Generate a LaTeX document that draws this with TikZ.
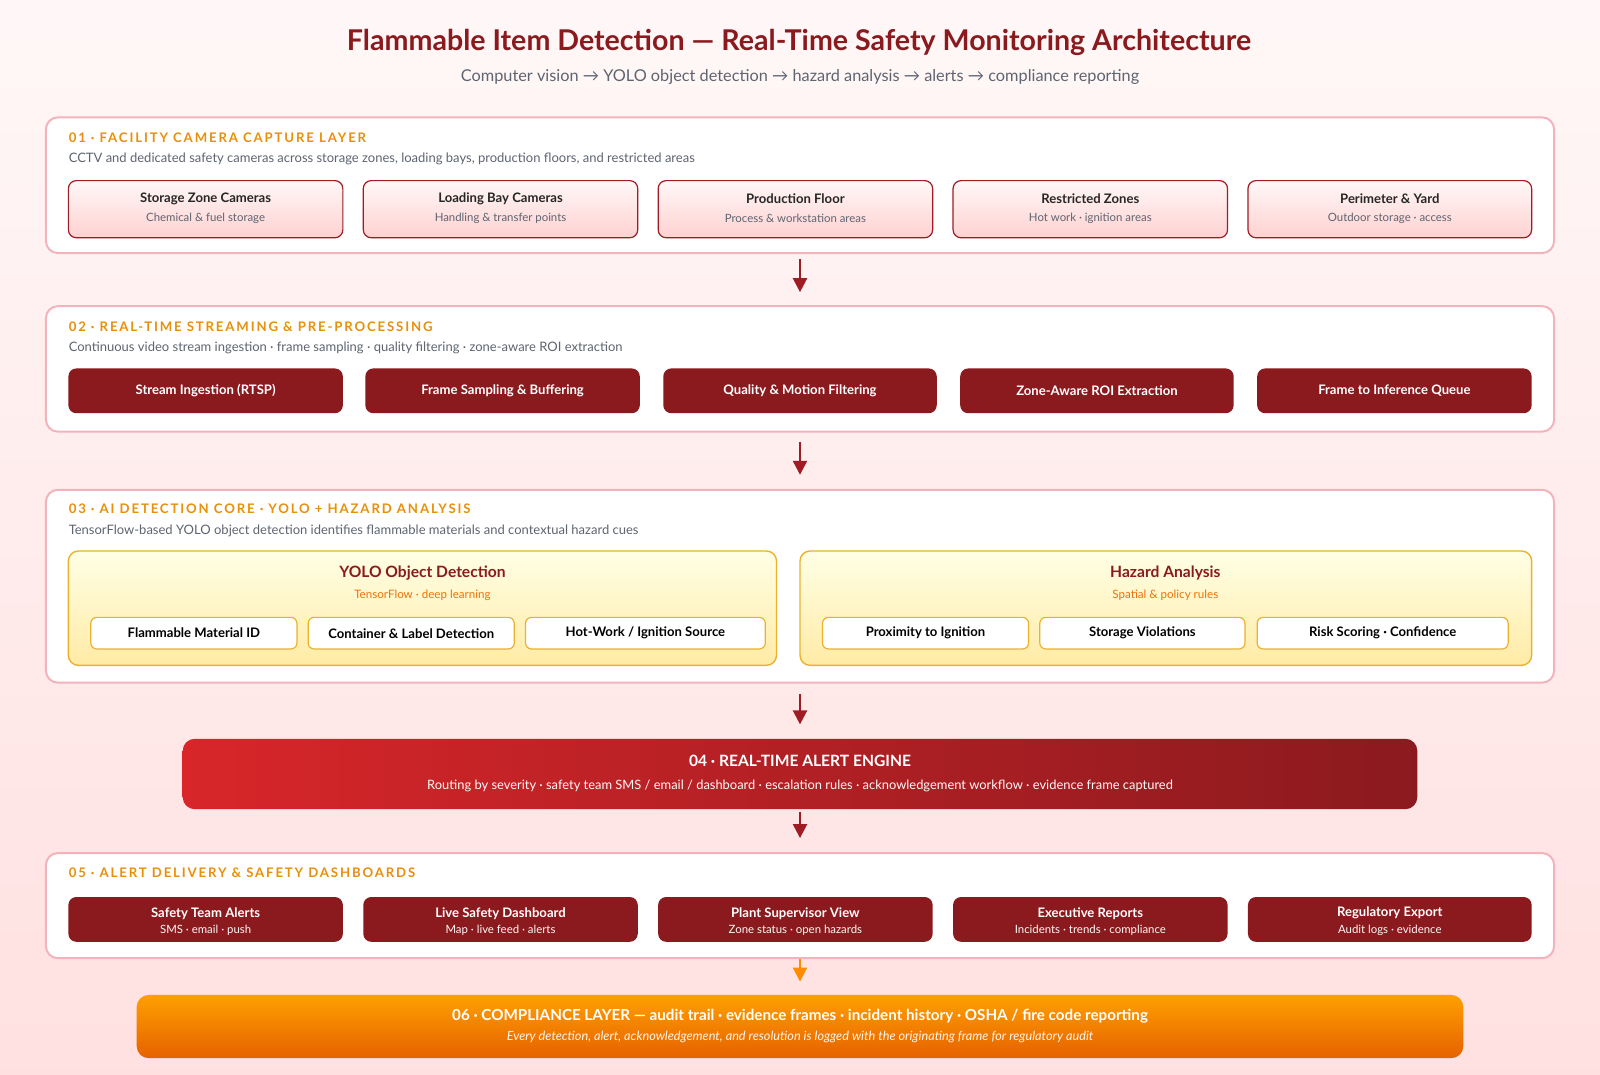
\documentclass[tikz,border=0pt]{standalone}
\usepackage{fontspec}
\setmainfont{Lato}
\usetikzlibrary{arrows.meta,positioning}
\definecolor{dred}{HTML}{8B1A1E}
\definecolor{bred}{HTML}{A01C24}
\definecolor{org}{HTML}{E8900C}
\definecolor{pinkb}{HTML}{F3B3BC}
\definecolor{gry}{HTML}{5E6470}
\definecolor{yelb}{HTML}{EBB22E}
\definecolor{aered}{HTML}{D8262A}
\tikzset{
 x=0.5102pt,y=-0.5102pt,
 layer/.style={draw=pinkb,line width=1pt,fill=white,rounded corners=6pt,inner sep=0pt},
 lab/.style={anchor=west,inner sep=0pt,text=org,font=\fontsize{6.6}{7}\selectfont\bfseries\addfontfeature{LetterSpace=14}},
 desc/.style={anchor=west,inner sep=0pt,text=gry,font=\fontsize{6.5}{7}\selectfont},
 pbox/.style={draw=bred,line width=0.6pt,rounded corners=4pt,top color=red!3!white,bottom color=red!18!white,inner sep=0pt},
 dbox/.style={fill=dred,rounded corners=4pt,inner sep=0pt,text=white,font=\fontsize{6.55}{7}\selectfont\bfseries},
 ybox/.style={draw=yelb,line width=0.7pt,rounded corners=5pt,top color=yellow!10!white,bottom color=yellow!55!orange!35!white,inner sep=0pt},
 wbox/.style={draw=yelb,line width=0.6pt,fill=white,rounded corners=3pt,inner sep=0pt,font=\fontsize{6.55}{7}\selectfont\bfseries},
 bt/.style={font=\fontsize{6.55}{7}\selectfont\bfseries,text=black!85},
 bs/.style={font=\fontsize{5.7}{6}\selectfont,text=gry},
 arr/.style={-{Triangle[length=7pt,width=7pt]},line width=1.2pt,draw=bred},
}
\newcommand{\rbox}[6]{\node[#1,minimum width={(#4-#3)*0.5102pt},minimum height={(#6-#5)*0.5102pt}] (#2) at ({(#3+#4)/2},{(#5+#6)/2}) {};}
\begin{document}
\begin{tikzpicture}
\shade[top color=red!3!white,bottom color=red!12!white] (0,0) rectangle (1568,1053);
\useasboundingbox (0,0) rectangle (1568,1053);
\node[text=dred,font=\fontsize{14.3}{16}\selectfont\bfseries] (title) at (783,42) {Flammable Item Detection — Real-Time Safety Monitoring Architecture};
\node[text=gry,font=\fontsize{8.15}{9}\selectfont] (sub) at (784,75) {Computer vision → YOLO object detection → hazard analysis → alerts → compliance reporting};
% layer 1
\rbox{layer}{L1}{45}{1523}{115}{248}
\node[lab] (l1t) at (67,135) {01 · FACILITY CAMERA CAPTURE LAYER};
\node[desc] (l1d) at (67,156) {CCTV and dedicated safety cameras across storage zones, loading bays, production floors, and restricted areas};
\foreach \n/\a/\b/\t/\s in {a/67/336/Storage Zone Cameras/Chemical \& fuel storage, b/356/625/Loading Bay Cameras/Handling \& transfer points, c/645/914/Production Floor/Process \& workstation areas, d/934/1203/Restricted Zones/Hot work · ignition areas, e/1223/1501/Perimeter \& Yard/Outdoor storage · access}{
 \rbox{pbox}{c\n}{\a}{\b}{177}{233}
 \node[bt] (c\n t) at ({(\a+\b)/2},195) {\t};
 \node[bs] (c\n s) at ({(\a+\b)/2},214) {\s};
}
% layer 2
\rbox{layer}{L2}{45}{1523}{300}{423}
\node[lab] (l2t) at (67,320) {02 · REAL-TIME STREAMING \& PRE-PROCESSING};
\node[desc] (l2d) at (67,341) {Continuous video stream ingestion · frame sampling · quality filtering · zone-aware ROI extraction};
\foreach \n/\a/\b/\t in {a/67/336/Stream Ingestion (RTSP), b/358/627/Frame Sampling \& Buffering, c/650/918/Quality \& Motion Filtering, d/941/1209/Zone-Aware ROI Extraction, e/1232/1501/Frame to Inference Queue}{
 \node[dbox,minimum width={(\b-\a)*0.5102pt},minimum height=22.4pt] (s\n) at ({(\a+\b)/2},383) {\t};
}
% layer 3
\rbox{layer}{L3}{45}{1523}{480}{669}
\node[lab] (l3t) at (67,499) {03 · AI DETECTION CORE · YOLO + HAZARD ANALYSIS};
\node[desc] (l3d) at (67,520) {TensorFlow-based YOLO object detection identifies flammable materials and contextual hazard cues};
\rbox{ybox}{Y1}{67}{761}{540}{652}
\rbox{ybox}{Y2}{784}{1501}{540}{652}
\node[text=dred,font=\fontsize{7.8}{9}\selectfont\bfseries] (y1t) at (414,562) {YOLO Object Detection};
\node[text=org!80!red,font=\fontsize{5.8}{6}\selectfont] (y1s) at (414,583) {TensorFlow · deep learning};
\node[text=dred,font=\fontsize{7.8}{9}\selectfont\bfseries] (y2t) at (1142,562) {Hazard Analysis};
\node[text=org!80!red,font=\fontsize{5.8}{6}\selectfont] (y2s) at (1142,583) {Spatial \& policy rules};
\foreach \n/\a/\b/\t in {a/89/291/{Flammable Material ID}, b/302/504/{Container \& Label Detection}, c/515/750/{Hot-Work / Ignition Source}, d/806/1008/{Proximity to Ignition}, e/1019/1220/{Storage Violations}, f/1232/1478/{Risk Scoring · Confidence}}{
 \node[wbox,minimum width={(\b-\a)*0.5102pt},minimum height=15.8pt] (w\n) at ({(\a+\b)/2},620.5) {\t};
}
% alert engine
\node[rounded corners=6pt,minimum width=617.3pt,minimum height=35.2pt,left color=aered,right color=dred,inner sep=0pt] (AE) at (784,758.5) {};
\node[text=white,font=\fontsize{7.8}{9}\selectfont\bfseries] (aet) at (784,746) {04 · REAL-TIME ALERT ENGINE};
\node[text=white!90!pink,font=\fontsize{6.45}{7}\selectfont] (aes) at (784,770) {Routing by severity · safety team SMS / email / dashboard · escalation rules · acknowledgement workflow · evidence frame captured};
% layer 5
\rbox{layer}{L5}{45}{1523}{836}{939}
\node[lab] (l5t) at (67,855) {05 · ALERT DELIVERY \& SAFETY DASHBOARDS};
\foreach \n/\a/\b/\t/\s in {a/67/336/Safety Team Alerts/SMS · email · push, b/356/625/Live Safety Dashboard/Map · live feed · alerts, c/645/914/Plant Supervisor View/Zone status · open hazards, d/934/1203/Executive Reports/Incidents · trends · compliance, e/1223/1501/Regulatory Export/Audit logs · evidence}{
 \node[dbox,minimum width={(\b-\a)*0.5102pt},minimum height=22.4pt] (d\n) at ({(\a+\b)/2},901) {};
 \node[text=white,font=\fontsize{6.55}{7}\selectfont\bfseries] (d\n t) at ({(\a+\b)/2},895) {\t};
 \node[text=white!85!pink,font=\fontsize{5.7}{6}\selectfont] (d\n s) at ({(\a+\b)/2},912) {\s};
}
% compliance
\node[rounded corners=6pt,minimum width=663.3pt,minimum height=31.6pt,top color=orange!75!yellow,bottom color=orange!85!red!90!black,inner sep=0pt] (CL) at (784,1006) {};
\node[text=white,font=\fontsize{7.6}{9}\selectfont\bfseries] (clt) at (784,996) {06 · COMPLIANCE LAYER — audit trail · evidence frames · incident history · OSHA / fire code reporting};
\node[text=white!92!orange,font=\fontsize{6.35}{7}\selectfont\itshape] (cls) at (784,1016) {Every detection, alert, acknowledgement, and resolution is logged with the originating frame for regulatory audit};
% arrows
\draw[arr] ([yshift=-2.5pt]L1.south) -- ([yshift=6.5pt]L2.north);
\draw[arr] ([yshift=-4.5pt]L2.south) -- ([yshift=7pt]L3.north);
\draw[arr] ([yshift=-5pt]L3.south) -- ([yshift=7pt]AE.north);
\draw[arr] ([yshift=-1pt]AE.south) -- ([yshift=7pt]L5.north);
\draw[arr,draw=orange!90!yellow,line width=1pt] ([yshift=0pt]L5.south) -- ([yshift=6.5pt]CL.north);
\end{tikzpicture}
\end{document}
